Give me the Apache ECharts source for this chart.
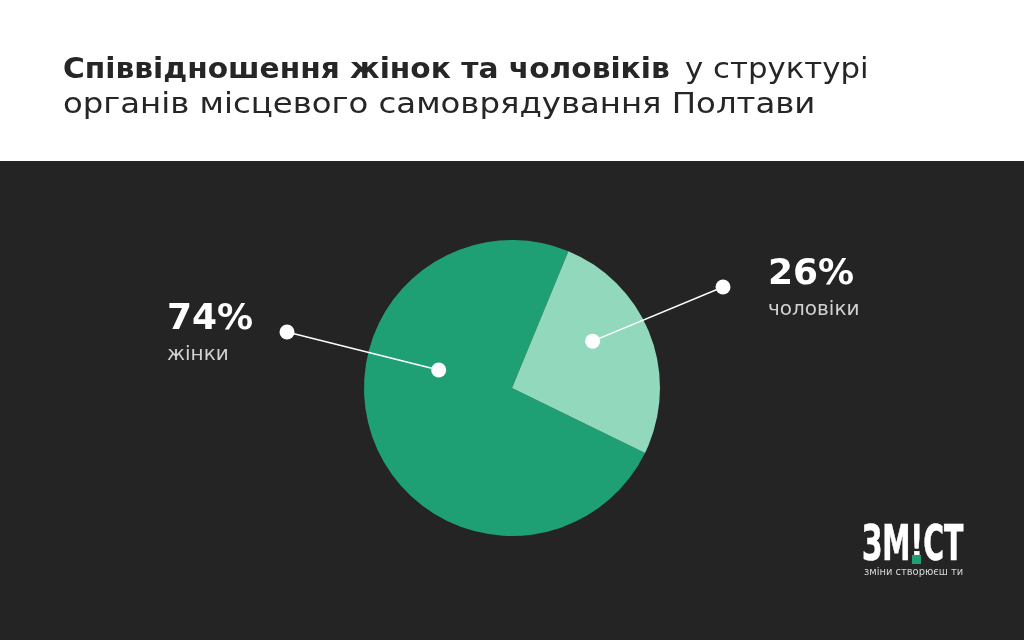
<!DOCTYPE html>
<html>
<head>
<meta charset="utf-8">
<script src="https://cdn.jsdelivr.net/npm/echarts@6/dist/echarts.min.js"></script>
<style>
	html, body { margin: 0; padding: 0; background: #fff; }
	#main { width: 1024px; height: 640px; }
</style>
</head>
<body>
<div id="main"></div>
<script>
var categories = ['жінки', 'чоловіки'];
var shares = [74, 26];
var shareLabels = ['74%', '26%'];

var titleBold = 'Співвідношення жінок та чоловіків';
var titleRest1 = 'у структурі';
var titleLine2 = 'органів місцевого самоврядування Полтави';

var chartColors = {
	header: '#ffffff',
	panel: '#242424',
	title: '#262626',
	slices: ['#1fa074', '#91d8bc'],
	pointer: '#ffffff',
	caption: '#d2d2d2',
	brand: '#1fa074'
};

var fontMain = '"DejaVu Sans", "Noto Sans", sans-serif';

// where each pointer starts inside its slice: [share of the slice angle, share of radius]
var pointerInner = [[0.63, 0.51], [0.40, 0.63]];
// outer pointer dot and label box top-left, pixels
var pointerOuter = [[287, 332], [723, 287]];
var labelBox = [[167, 298], [768, 253]];

var pieCenter = [512, 388];
var pieRadius = 148;

var chart = echarts.init(document.getElementById('main'), null, { renderer: 'canvas' });

function innerPoint(i) {
	var layout = null;
	try {
		layout = chart.getModel().getSeriesByIndex(0).getData().getItemLayout(i);
	} catch (e) {}
	var sa, ea, cx, cy, r;
	if (layout && layout.r) {
		sa = layout.startAngle; ea = layout.endAngle;
		cx = layout.cx; cy = layout.cy; r = layout.r;
	} else {
		var total = shares[0] + shares[1];
		var acc = 0;
		for (var k = 0; k < i; k++) acc += shares[k];
		sa = (26 * Math.PI / 180) + acc / total * Math.PI * 2;
		ea = sa + shares[i] / total * Math.PI * 2;
		cx = pieCenter[0]; cy = pieCenter[1]; r = pieRadius;
	}
	var a = sa + (ea - sa) * pointerInner[i][0];
	var rr = r * pointerInner[i][1];
	return [cx + rr * Math.cos(a), cy + rr * Math.sin(a)];
}

var option = {
	backgroundColor: chartColors.header,
	animation: false,
	series: [{
		type: 'pie',
		center: pieCenter,
		radius: pieRadius,
		startAngle: -26,
		clockwise: true,
		z: 2,
		itemStyle: { borderWidth: 0 },
		emphasis: { disabled: true },
		data: categories.map(function (c, i) {
			return { name: c, value: shares[i], itemStyle: { color: chartColors.slices[i] } };
		}),
		label: {
			show: true,
			formatter: function (p) {
				return '{p|' + shareLabels[p.dataIndex] + '}\n{n|' + categories[p.dataIndex] + '}';
			},
			rich: {
				p: { fontFamily: fontMain, fontSize: 36, fontWeight: 'bold', color: '#ffffff', lineHeight: 44 },
				n: { fontFamily: fontMain, fontSize: 20, color: chartColors.caption, lineHeight: 26 }
			}
		},
		labelLine: { show: false }
	}],
	graphic: []
};

chart.setOption(option);

function pointer(i, inner) {
	var o = pointerOuter[i];
	return [
		{ type: 'line', z: 99, shape: { x1: inner[0], y1: inner[1], x2: o[0], y2: o[1] }, style: { stroke: chartColors.pointer, lineWidth: 1.5 } },
		{ type: 'circle', z: 100, shape: { cx: inner[0], cy: inner[1], r: 7.5 }, style: { fill: chartColors.pointer } },
		{ type: 'circle', z: 100, shape: { cx: o[0], cy: o[1], r: 7.5 }, style: { fill: chartColors.pointer } }
	];
}

function buildOverlay() {
	var inner = [innerPoint(0), innerPoint(1)];

	var graphics = [
		{
			type: 'rect', z: -10, silent: true,
			shape: { x: 0, y: 161, width: 1024, height: 479 },
			style: { fill: chartColors.panel }
		},
		{
			type: 'text', x: 63, y: 57, z: 10, scaleX: 1.06,
			style: { text: titleBold, fontFamily: fontMain, fontSize: 28, fontWeight: 'bold', fill: chartColors.title }
		},
		{
			type: 'text', x: 685, y: 57, z: 10, scaleX: 1.1,
			style: { text: titleRest1, fontFamily: fontMain, fontSize: 28, fill: chartColors.title }
		},
		{
			type: 'text', x: 63, y: 92, z: 10, scaleX: 1.155,
			style: { text: titleLine2, fontFamily: fontMain, fontSize: 28, fill: chartColors.title }
		},
		// brand mark
		{
			type: 'text', x: 862, y: 522, z: 10, scaleX: 0.63,
			style: {
				text: 'ЗМ!СТ',
				fontFamily: '"Liberation Sans Narrow", "DejaVu Sans Condensed", sans-serif',
				fontWeight: 'bold', fontSize: 50, fill: '#ffffff',
				stroke: '#ffffff', lineWidth: 0.6
			}
		},
		{
			type: 'rect', z: 11,
			shape: { x: 912, y: 555, width: 9, height: 9 },
			style: { fill: chartColors.brand }
		},
		{
			type: 'text', x: 864, y: 567, z: 10, scaleX: 0.9,
			style: {
				text: 'зміни створюєш ти',
				fontFamily: fontMain, fontSize: 11, fill: '#d8d8d8'
			}
		}
	];
	graphics = graphics.concat(pointer(0, inner[0]), pointer(1, inner[1]));

	chart.setOption({
		series: [{
			labelLayout: function (params) {
				var i = params.dataIndex;
				return { x: labelBox[i][0], y: labelBox[i][1], align: 'left', verticalAlign: 'top' };
			}
		}],
		graphic: graphics
	});
}

buildOverlay();
</script>
</body>
</html>
